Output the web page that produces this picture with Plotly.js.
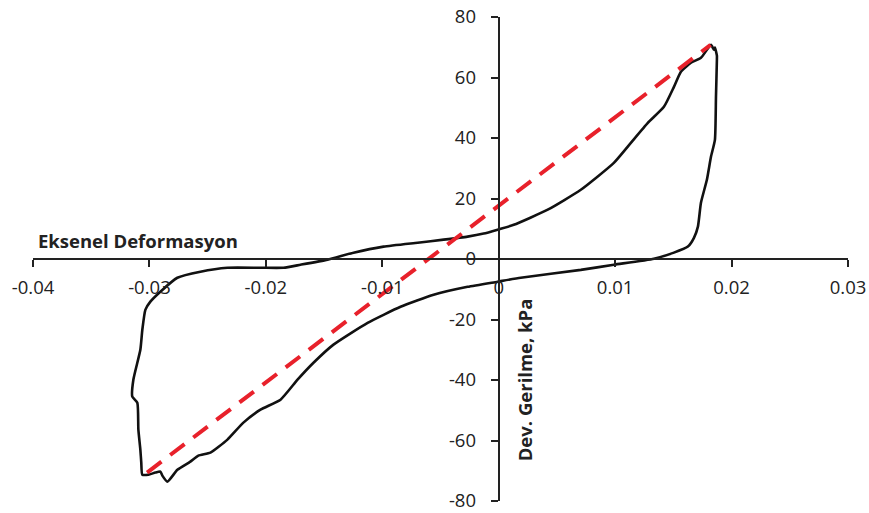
<!DOCTYPE html>
<html><head><meta charset="utf-8">
<script src="https://cdn.plot.ly/plotly-3.0.1.min.js"></script>
<style>html,body{margin:0;padding:0;background:#fff}#c{width:869px;height:513px}</style>
</head><body><div id="c"></div>
<script>
// Hysteresis loop (axial strain vs deviator stress)
const strain = [0.01823,0.01849,0.01857,0.01874,0.01874,0.01866,0.01857,0.01823,0.01788,0.01737,0.01711,0.01677,0.01625,0.01505,0.01333,0.00989,0.00705,0.00189,-0.0001,-0.00267,-0.00559,-0.00843,-0.01126,-0.01419,-0.01591,-0.01728,-0.01874,-0.02046,-0.02193,-0.02330,-0.02476,-0.02580,-0.02648,-0.02760,-0.02846,-0.02889,-0.02906,-0.02949,-0.03009,-0.03061,-0.03070,-0.03078,-0.03095,-0.03104,-0.03147,-0.03138,-0.03078,-0.03061,-0.03035,-0.02992,-0.02906,-0.02760,-0.02562,-0.02330,-0.02046,-0.01849,-0.01703,-0.01470,-0.01247,-0.00989,-0.00696,-0.00473,-0.00267,-0.00129,-0.00009,0.00129,0.00421,0.00705,0.00989,0.01135,0.01281,0.01419,0.01505,0.01565,0.01651,0.01737,0.01823];
const stress = [70.8,69.2,69.9,67.2,65.9,53.6,39.4,33.8,26.2,18.6,10.7,7.0,4.1,2.1,0.1,-1.9,-3.6,-6.2,-7.5,-9.2,-11.8,-15.8,-21.1,-28.3,-34.3,-39.9,-46.5,-49.8,-54.1,-59.7,-64.0,-65.0,-67.0,-69.7,-73.6,-71.6,-70.3,-70.6,-71.3,-71.3,-67.3,-63.0,-56.4,-47.5,-45.5,-39.9,-30.0,-23.4,-16.8,-14.1,-10.8,-6.2,-4.2,-2.9,-2.9,-2.9,-1.9,-0.2,2.1,4.1,5.4,6.4,7.4,8.4,9.7,11.3,16.3,22.9,31.8,38.4,45.0,50.3,56.9,61.9,64.9,66.5,70.8];
// Secant (dashed) line between the loop extremes
const secantStrain = [-0.0302, 0.0182];
const secantStress = [-70.6, 70.8];
const xTicks = [-0.04,-0.03,-0.02,-0.01,0,0.01,0.02,0.03];
const xTickText = ['-0.04','-0.03','-0.02','-0.01','0','0.01','0.02','0.03'];
const yTicks = [-80,-60,-40,-20,0,20,40,60,80];
const yTickText = ['-80','-60','-40','-20','0','20','40','60','80'];
const xTitle = 'Eksenel Deformasyon';
const yTitle = 'Dev. Gerilme, kPa';

const FONT = 'Open Sans, Liberation Sans, sans-serif';
const xr = [-0.04, 0.03], yr = [-80, 80];
const traces = [
  {x: strain, y: stress, type: 'scatter', mode: 'lines', line: {color: '#111', width: 2.6, shape: 'spline', smoothing: 0.5}, hoverinfo: 'skip'},
  {x: secantStrain, y: secantStress, type: 'scatter', mode: 'lines', line: {color: '#e8212b', width: 4, dash: '18px,11px'}, hoverinfo: 'skip'}
];
const layout = {
  width: 869, height: 513,
  margin: {l: 33, r: 21, t: 17, b: 12},
  paper_bgcolor: '#fff', plot_bgcolor: '#fff',
  showlegend: false,
  font: {family: FONT, size: 18, color: '#222'},
  xaxis: {range: xr, tickvals: xTicks, ticktext: xTickText, showgrid: false, zeroline: false,
    showline: true, linecolor: '#222', linewidth: 2, ticks: 'outside', ticklen: 7, tickwidth: 2, tickcolor: '#222',
    ticklabelstandoff: 5,
    anchor: 'free', position: (0 - yr[0]) / (yr[1] - yr[0]), tickfont: {family: FONT, size: 18.5, color: '#222'}},
  yaxis: {range: yr, tickvals: yTicks, ticktext: yTickText, showgrid: false, zeroline: false,
    showline: true, linecolor: '#222', linewidth: 2, ticks: 'outside', ticklen: 7, tickwidth: 2, tickcolor: '#222',
    ticklabelstandoff: 11,
    anchor: 'free', position: (0 - xr[0]) / (xr[1] - xr[0]), tickfont: {family: FONT, size: 18.5, color: '#222'}},
  annotations: [
    {text: '<b>' + xTitle + '</b>', xref: 'x', yref: 'y', x: -0.0397, y: 6.2, xanchor: 'left', yanchor: 'middle', showarrow: false, font: {family: FONT, size: 18.5, color: '#222'}},
    {text: '<b>' + yTitle + '</b>', xref: 'x', yref: 'y', x: 0.0022, y: -40, xanchor: 'center', yanchor: 'middle', textangle: -90, showarrow: false, font: {family: FONT, size: 18.5, color: '#222'}}
  ]
};
Plotly.newPlot('c', traces, layout, {staticPlot: true, displayModeBar: false});
</script></body></html>
